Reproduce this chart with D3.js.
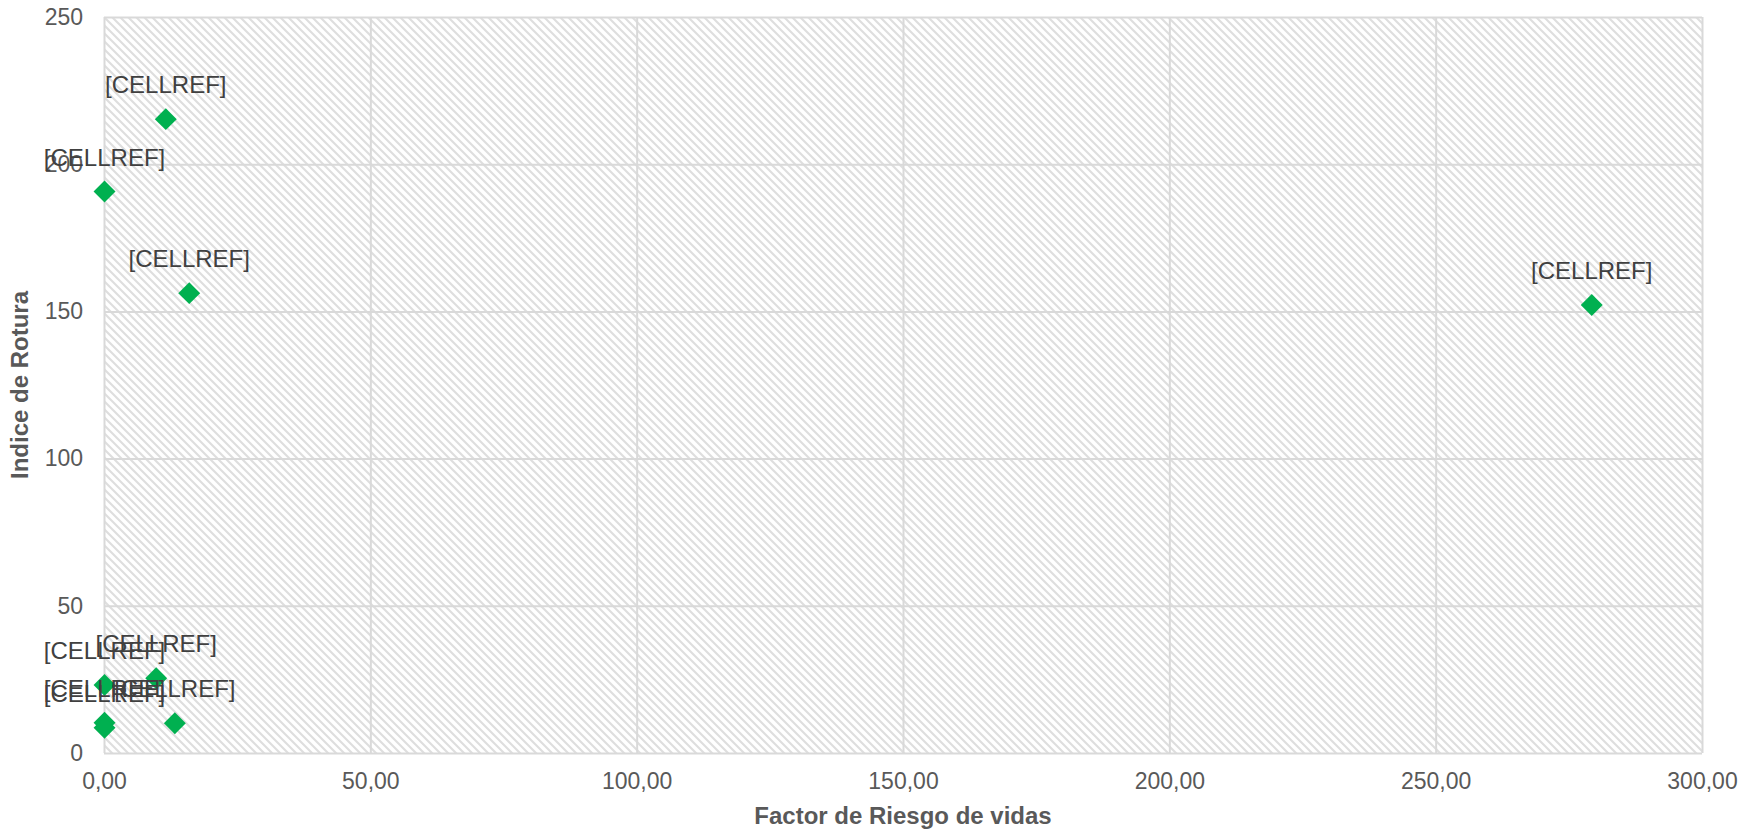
<!DOCTYPE html>
<html>
<head>
<meta charset="utf-8">
<script src="https://cdn.jsdelivr.net/npm/d3@7"></script>
<style>
  html, body { margin: 0; padding: 0; background: #ffffff; }
  svg { display: block; }
  text { font-family: "Liberation Sans", Arial, sans-serif; }
</style>
</head>
<body>
<svg id="chart" width="1758" height="830"></svg>
<script>
// Factor de riesgo de vidas (x) vs. índice de rotura (y), one entry per dam
const riskFactor = [11.6, 0.1, 16.0, 279.3, 0.1, 9.8, 0.1, 0.1, 13.3];
const breakIndex = [215.3, 190.7, 156.2, 152.2, 23.1, 25.4, 10.3, 8.6, 10.1];
const pointLabels = ["[CELLREF]", "[CELLREF]", "[CELLREF]", "[CELLREF]", "[CELLREF]",
                     "[CELLREF]", "[CELLREF]", "[CELLREF]", "[CELLREF]"];

const xTicks = [0, 50, 100, 150, 200, 250, 300];
const yTicks = [0, 50, 100, 150, 200, 250];
const xTitle = "Factor de Riesgo de vidas";
const yTitle = "Indice de Rotura";

const W = 1758, H = 830;
const margin = { top: 17, right: 56, bottom: 77, left: 104 };
const plotW = W - margin.left - margin.right;
const plotH = H - margin.top - margin.bottom;

const svg = d3.select("#chart");

const es = d3.formatLocale({ decimal: ",", thousands: ".", grouping: [3], currency: ["", " €"] });
const fmtX = es.format(".2f");
const fmtY = es.format("d");

const x = d3.scaleLinear().domain([0, 300]).range([0, plotW]);
const y = d3.scaleLinear().domain([0, 250]).range([plotH, 0]);

// diagonal hatch fill for the plot area
const defs = svg.append("defs");
const pat = defs.append("pattern")
  .attr("id", "hatch")
  .attr("patternUnits", "userSpaceOnUse")
  .attr("width", 8).attr("height", 8);
pat.append("rect").attr("width", 8).attr("height", 8).attr("fill", "#ffffff");
pat.append("path")
  .attr("d", "M-2,-2 L10,10 M-2,6 L2,10 M6,-2 L10,2")
  .attr("stroke", "#dedede")
  .attr("stroke-width", 2.1);

const g = svg.append("g").attr("transform", `translate(${margin.left},${margin.top})`);

g.append("rect")
  .attr("width", plotW).attr("height", plotH)
  .attr("fill", "url(#hatch)");

// gridlines
g.append("g")
  .attr("transform", `translate(0,${plotH})`)
  .call(d3.axisBottom(x).tickValues(xTicks).tickSize(-plotH).tickFormat(""))
  .call(s => s.select(".domain").remove())
  .call(s => s.selectAll("line").attr("stroke", "#d9d9d9").attr("stroke-width", 2));

g.append("g")
  .call(d3.axisLeft(y).tickValues(yTicks).tickSize(-plotW).tickFormat(""))
  .call(s => s.select(".domain").remove())
  .call(s => s.selectAll("line").attr("stroke", "#d9d9d9").attr("stroke-width", 2));

// tick labels
const xAxis = g.append("g")
  .attr("transform", `translate(0,${plotH})`)
  .call(d3.axisBottom(x).tickValues(xTicks).tickSize(0).tickPadding(20).tickFormat(fmtX));
xAxis.select(".domain").remove();
xAxis.selectAll("text")
  .attr("fill", "#595959")
  .style("font-size", "23px")
  .style("font-family", "'Liberation Sans', Arial, sans-serif");

const yAxis = g.append("g")
  .call(d3.axisLeft(y).tickValues(yTicks).tickSize(0).tickPadding(21).tickFormat(fmtY));
yAxis.select(".domain").remove();
yAxis.selectAll("text")
  .attr("fill", "#595959")
  .style("font-size", "23px")
  .style("font-family", "'Liberation Sans', Arial, sans-serif");

// axis titles
svg.append("text")
  .attr("x", margin.left + plotW / 2)
  .attr("y", 824)
  .attr("text-anchor", "middle")
  .attr("fill", "#595959")
  .style("font-size", "24px")
  .style("font-weight", "bold")
  .text(xTitle);

svg.append("text")
  .attr("transform", `translate(28,${margin.top + plotH / 2}) rotate(-90)`)
  .attr("text-anchor", "middle")
  .attr("fill", "#595959")
  .style("font-size", "24px")
  .style("font-weight", "bold")
  .text(yTitle);

// markers
const data = riskFactor.map((v, i) => ({ x: v, y: breakIndex[i], label: pointLabels[i] }));
const diamond = d3.symbol().type(d3.symbolSquare).size(240);

g.append("g").selectAll("path")
  .data(data)
  .join("path")
  .attr("d", diamond)
  .attr("transform", d => `translate(${x(d.x)},${y(d.y)}) rotate(45)`)
  .attr("fill", "#00b050");

// data labels
g.append("g").selectAll("text")
  .data(data)
  .join("text")
  .attr("x", d => x(d.x))
  .attr("y", d => y(d.y) - 26)
  .attr("text-anchor", "middle")
  .attr("fill", "#404040")
  .style("font-size", "24px")
  .text(d => d.label);
</script>
</body>
</html>
